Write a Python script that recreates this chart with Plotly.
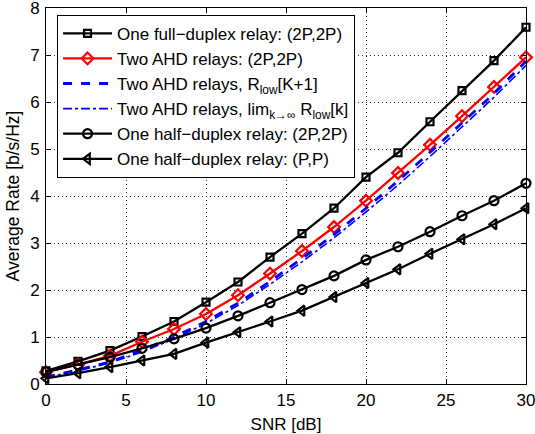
import plotly.graph_objects as go

snr = [0, 2, 4, 6, 8, 10, 12, 14, 16, 18, 20, 22, 24, 26, 28, 30]
full_duplex = [0.28, 0.48, 0.71, 1.01, 1.33, 1.74, 2.17, 2.70, 3.20, 3.74, 4.40, 4.92, 5.58, 6.24, 6.88, 7.59]
ahd_two = [0.25, 0.41, 0.60, 0.90, 1.17, 1.49, 1.89, 2.35, 2.83, 3.34, 3.90, 4.49, 5.09, 5.70, 6.32, 6.95]
ahd_rlow = [0.15, 0.30, 0.47, 0.72, 1.00, 1.33, 1.72, 2.18, 2.67, 3.18, 3.74, 4.32, 4.93, 5.55, 6.18, 6.87]
ahd_lim = [0.14, 0.28, 0.45, 0.68, 0.96, 1.29, 1.67, 2.12, 2.60, 3.11, 3.66, 4.23, 4.84, 5.46, 6.10, 6.78]
hd_2p = [0.26, 0.41, 0.57, 0.76, 0.96, 1.19, 1.45, 1.73, 2.01, 2.30, 2.64, 2.92, 3.24, 3.58, 3.90, 4.27]
hd_p = [0.12, 0.23, 0.36, 0.50, 0.64, 0.88, 1.10, 1.33, 1.56, 1.85, 2.15, 2.44, 2.77, 3.08, 3.40, 3.74]

x_ticks = [0, 5, 10, 15, 20, 25, 30]
y_ticks = [0, 1, 2, 3, 4, 5, 6, 7, 8]

names = [
    "One full\u2212duplex relay: (2P,2P)",
    "Two AHD relays: (2P,2P)",
    "Two AHD relays, R<sub>low</sub>[K+1]",
    "Two AHD relays, lim<sub>k\u2192\u221e</sub> R<sub>low</sub>[k]",
    "One half\u2212duplex relay: (2P,2P)",
    "One half\u2212duplex relay: (P,P)",
]

fig = go.Figure()
fig.add_trace(go.Scatter(x=snr, y=full_duplex, name=names[0], mode="lines+markers", cliponaxis=False,
                         line=dict(color="black", width=2.3),
                         marker=dict(symbol="square-open", size=7, color="black", line=dict(width=2.2))))
fig.add_trace(go.Scatter(x=snr, y=ahd_two, name=names[1], mode="lines+markers", cliponaxis=False,
                         line=dict(color="red", width=2.3),
                         marker=dict(symbol="diamond-open", size=9, color="red", line=dict(width=2.2))))
fig.add_trace(go.Scatter(x=snr, y=ahd_rlow, name=names[2], mode="lines",
                         line=dict(color="blue", width=2.8, dash="dash")))
fig.add_trace(go.Scatter(x=snr, y=ahd_lim, name=names[3], mode="lines",
                         line=dict(color="blue", width=1.6, dash="dashdot")))
fig.add_trace(go.Scatter(x=snr, y=hd_2p, name=names[4], mode="lines+markers", cliponaxis=False,
                         line=dict(color="black", width=2.3),
                         marker=dict(symbol="circle-open", size=9, color="black", line=dict(width=2.2))))
fig.add_trace(go.Scatter(x=snr, y=hd_p, name=names[5], mode="lines+markers", cliponaxis=False,
                         line=dict(color="black", width=2.3),
                         marker=dict(symbol="triangle-left-open", size=9, color="black", line=dict(width=2.2))))

axis_common = dict(
    showline=True, linecolor="black", linewidth=1, mirror="ticks",
    ticks="inside", ticklen=5, tickcolor="black",
    showgrid=True, gridcolor="#333333", griddash="1px,3px", gridwidth=1,
    zeroline=False, tickfont=dict(size=17, color="black"), automargin=False,
    ticklabeloverflow="allow",
)

fig.update_layout(
    width=535, height=434,
    margin=dict(l=46, r=9, t=8, b=50),
    paper_bgcolor="white", plot_bgcolor="white",
    font=dict(family="Liberation Sans, Arial, sans-serif", color="black", size=17),
    showlegend=True,
    legend=dict(x=0.023, y=0.982, xanchor="left", yanchor="top",
                bgcolor="white", bordercolor="black", borderwidth=1,
                font=dict(size=17), tracegroupgap=0, itemwidth=49),
)
fig.update_xaxes(range=[0, 30], tickvals=x_ticks, ticklabelstandoff=1,
                 title=dict(text="SNR [dB]", standoff=8, font=dict(size=17)), **axis_common)
fig.update_yaxes(range=[0, 8], tickvals=y_ticks, ticklabelstandoff=2,
                 title=dict(text="Average Rate [b/s/Hz]", standoff=6, font=dict(size=17.5)), **axis_common)

fig.write_html("out.html", config={"displayModeBar": False},
               post_script="document.body.style.margin='0';document.body.style.overflow='hidden';")
